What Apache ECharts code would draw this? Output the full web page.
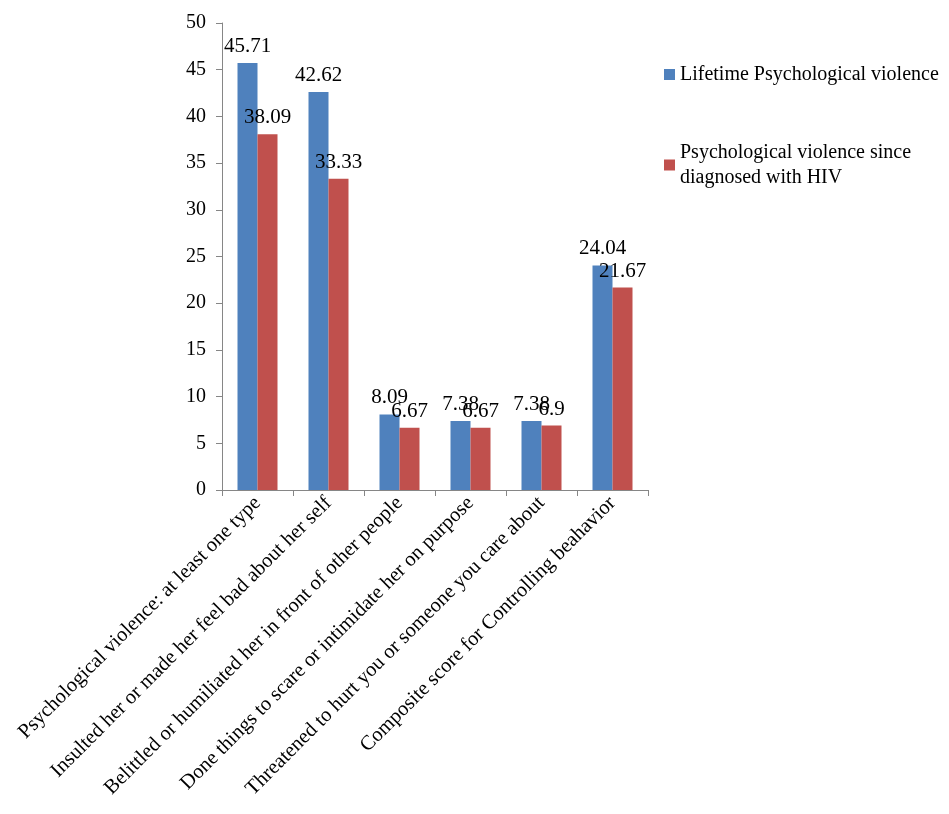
<!DOCTYPE html>
<html>
<head>
<meta charset="utf-8">
<script src="https://cdn.jsdelivr.net/npm/echarts@6/dist/echarts.min.js"></script>
<style>
    html, body { margin: 0; padding: 0; background: #fff; }
    #chart { width: 949px; height: 814px; }
</style>
</head>
<body>
<div id="chart"></div>
<script>
const categories = [
    'Psychological violence: at least one type',
    'Insulted her or made her feel bad about her self',
    'Belittled or humiliated her in front of other people',
    'Done things to scare or intimidate her on purpose',
    'Threatened to hurt you or someone you care about',
    'Composite score for Controlling beahavior'
]
const lifetimeValues = [45.71, 42.62, 8.09, 7.38, 7.38, 24.04]
const sinceHivValues = [38.09, 33.33, 6.67, 6.67, 6.9, 21.67]
const lifetimeLabels = ['45.71', '42.62', '8.09', '7.38', '7.38', '24.04']
const sinceHivLabels = ['38.09', '33.33', '6.67', '6.67', '6.9', '21.67']
const yTicks = [0, 5, 10, 15, 20, 25, 30, 35, 40, 45, 50]

const font = 'Liberation Serif'
const axisGray = '#868686'

const chartInstance = echarts.init(document.getElementById('chart'))

const options = {
    animation: false,
    textStyle: { fontFamily: font },
    legend: {
        orient: 'vertical',
        left: 659,
        top: 57,
        itemWidth: 11,
        itemHeight: 11,
        itemGap: 53,
        icon: 'rect',
        textStyle: { fontFamily: font, fontSize: 20, color: '#000', lineHeight: 25 },
        formatter: name => name === 'Psychological violence since diagnosed with HIV'
            ? 'Psychological violence since\ndiagnosed with HIV'
            : name,
        data: ['Lifetime Psychological violence', 'Psychological violence since diagnosed with HIV']
    },
    grid: {
        left: 222,
        right: 301,
        top: 23,
        bottom: 324
    },
    xAxis: {
        type: 'category',
        data: categories,
        axisLine: { lineStyle: { color: axisGray } },
        axisTick: { show: true, alignWithLabel: false, length: 6, lineStyle: { color: axisGray } },
        axisLabel: {
            rotate: 45,
            interval: 0,
            margin: 10,
            fontFamily: font,
            fontSize: 20.5,
            color: '#000'
        }
    },
    yAxis: {
        type: 'value',
        min: yTicks[0],
        max: yTicks[yTicks.length - 1],
        interval: yTicks[1] - yTicks[0],
        splitLine: { show: false },
        axisLine: { show: true, lineStyle: { color: axisGray } },
        axisTick: { show: true, length: 6, lineStyle: { color: axisGray } },
        axisLabel: { fontFamily: font, fontSize: 20, color: '#000', margin: 16 }
    },
    series: [
        {
            name: 'Lifetime Psychological violence',
            type: 'bar',
            data: lifetimeValues,
            barWidth: 20,
            barGap: '0%',
            itemStyle: { color: '#4F81BD' },
            label: {
                show: true,
                position: 'top',
                distance: 6,
                fontFamily: font,
                fontSize: 21,
                color: '#000',
                formatter: p => lifetimeLabels[p.dataIndex]
            }
        },
        {
            name: 'Psychological violence since diagnosed with HIV',
            type: 'bar',
            data: sinceHivValues,
            barWidth: 20,
            barGap: '0%',
            itemStyle: { color: '#C0504D' },
            label: {
                show: true,
                position: 'top',
                distance: 6,
                fontFamily: font,
                fontSize: 21,
                color: '#000',
                formatter: p => sinceHivLabels[p.dataIndex]
            }
        }
    ]
}

chartInstance.setOption(options)
</script>
</body>
</html>
